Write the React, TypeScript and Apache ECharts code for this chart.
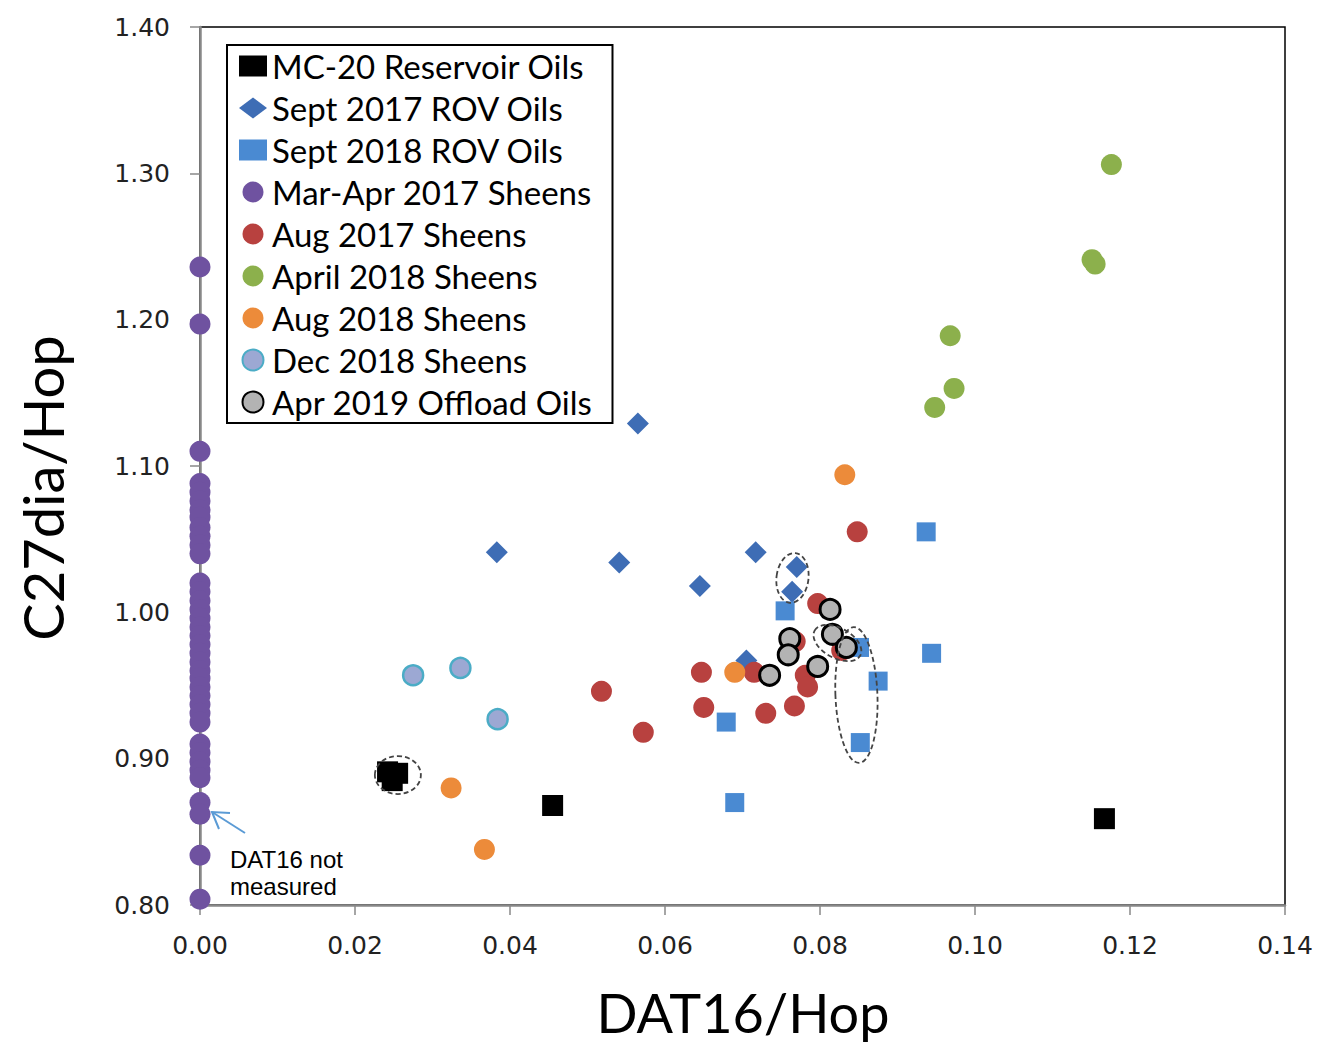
import React, { useEffect, useRef } from 'react';
import * as echarts from 'echarts';

// ---------- data ----------
const seriesNames = [
  'MC-20 Reservoir Oils',
  'Sept 2017 ROV Oils',
  'Sept 2018 ROV Oils',
  'Mar-Apr 2017 Sheens',
  'Aug 2017 Sheens',
  'April 2018 Sheens',
  'Aug 2018 Sheens',
  'Dec 2018 Sheens',
  'Apr 2019 Offload Oils',
];

const mc20Oils: [number, number][] = [
  [0.0242, 0.891], [0.0255, 0.890], [0.0248, 0.885], [0.0455, 0.868], [0.1167, 0.859],
];
const sept2017Rov: [number, number][] = [
  [0.0565, 1.129], [0.0383, 1.041], [0.0541, 1.034], [0.0645, 1.018],
  [0.0717, 1.041], [0.0770, 1.031], [0.0764, 1.014], [0.0705, 0.967],
];
const sept2018Rov: [number, number][] = [
  [0.0755, 1.001], [0.0937, 1.055], [0.0851, 0.976], [0.0944, 0.972],
  [0.0875, 0.953], [0.0679, 0.925], [0.0852, 0.911], [0.0690, 0.870],
];
const marApr2017Y: number[] = [
  1.236, 1.197, 1.110, 1.088, 1.082, 1.076, 1.070, 1.065, 1.058, 1.052, 1.046, 1.040,
  1.020, 1.014, 1.008, 1.002, 0.996, 0.990, 0.984, 0.978, 0.972, 0.966, 0.960, 0.955,
  0.949, 0.943, 0.937, 0.931, 0.925, 0.910, 0.904, 0.898, 0.892, 0.887, 0.870, 0.862,
  0.834, 0.804,
];
const aug2017Sheens: [number, number][] = [
  [0.0518, 0.946], [0.0572, 0.918], [0.0647, 0.959], [0.0650, 0.935], [0.0715, 0.959],
  [0.0730, 0.931], [0.0767, 0.936], [0.0768, 0.980], [0.0781, 0.957], [0.0784, 0.949],
  [0.0797, 1.006], [0.0828, 0.974], [0.0848, 1.055],
];
const april2018Sheens: [number, number][] = [
  [0.1176, 1.306], [0.1151, 1.241], [0.1155, 1.238], [0.0968, 1.189], [0.0973, 1.153], [0.0948, 1.140],
];
const aug2018Sheens: [number, number][] = [
  [0.0832, 1.094], [0.0690, 0.959], [0.0324, 0.880], [0.0367, 0.838],
];
const dec2018Sheens: [number, number][] = [
  [0.0275, 0.957], [0.0336, 0.962], [0.0384, 0.927],
];
const apr2019Offload: [number, number][] = [
  [0.0813, 1.002], [0.0761, 0.982], [0.0759, 0.971], [0.0816, 0.985],
  [0.0834, 0.976], [0.0797, 0.963], [0.0735, 0.957],
];

// annotation ellipses (centers in data units)
const ellipseCenters: [number, number][] = [
  [0.02553, 0.8888], [0.07645, 1.0235], [0.08225, 0.979], [0.0847, 0.9435],
];

export default function App() {
  const ref = useRef<HTMLDivElement>(null);
  useEffect(() => {
    const chart = echarts.init(ref.current!, null, { renderer: 'svg' });
    const mk = (name: string, symbol: string, size: number, data: any[], color: string, borderColor?: string, borderWidth?: number) => ({
      name, type: 'scatter', symbol, symbolSize: size, data,
      itemStyle: { color, borderColor: borderColor || color, borderWidth: borderWidth || 0, opacity: 1 },
      emphasis: { disabled: true },
    });
    const purple = marApr2017Y.map((y) => [0, y]);
    chart.setOption({
      animation: false,
      grid: { left: 200, top: 27, right: 34, bottom: 140, show: true, borderColor: '#000', borderWidth: 1.5, backgroundColor: 'transparent' },
      xAxis: {
        type: 'value', min: 0, max: 0.14, interval: 0.02,
        axisLine: { show: true, lineStyle: { color: '#888', width: 2.5 } },
        axisTick: { show: true, inside: false, length: 10, lineStyle: { color: '#888', width: 1.5 } },
        axisLabel: { margin: 28, fontFamily: 'DejaVu Sans', fontSize: 25, color: '#222', formatter: (v: number) => v.toFixed(2) },
        splitLine: { show: false },
      },
      yAxis: {
        type: 'value', min: 0.8, max: 1.4, interval: 0.1,
        axisLine: { show: true, lineStyle: { color: '#888', width: 2.5 } },
        axisTick: { show: true, inside: false, length: 10, lineStyle: { color: '#888', width: 1.5 } },
        axisLabel: { margin: 30, fontFamily: 'DejaVu Sans', fontSize: 25, color: '#222', formatter: (v: number) => v.toFixed(2) },
        splitLine: { show: false },
      },
      legend: {
        orient: 'vertical', left: 227, top: 45,
        itemWidth: 28, itemHeight: 21, itemGap: 0,
        padding: [0, 20, 0, 12],
        backgroundColor: '#fff', borderColor: '#000', borderWidth: 2,
        textStyle: { fontFamily: 'Lato', fontSize: 33, color: '#000', lineHeight: 42 },
        data: seriesNames,
        selectedMode: false,
      },
      series: [
        mk(seriesNames[0], 'rect', 21, mc20Oils, '#000000'),
        mk(seriesNames[1], 'diamond', 22, sept2017Rov, '#3E6DB5'),
        mk(seriesNames[2], 'rect', 19, sept2018Rov, '#4A8AD2'),
        mk(seriesNames[3], 'circle', 21, purple, '#6F52A0'),
        mk(seriesNames[4], 'circle', 21, aug2017Sheens, '#B8413F'),
        mk(seriesNames[5], 'circle', 21, april2018Sheens, '#8CB04C'),
        mk(seriesNames[6], 'circle', 21, aug2018Sheens, '#EC8B3A'),
        mk(seriesNames[7], 'circle', 20, dec2018Sheens, '#9CA8D3', '#4BACC6', 2.5),
        mk(seriesNames[8], 'circle', 20, apr2019Offload, '#B3B3B3', '#000000', 3),
      ],
    });

    const ellSpec = [
      { rx: 23, ry: 19, rot: 0 },
      { rx: 16, ry: 25, rot: -0.12 },
      { rx: 26, ry: 15, rot: -0.5 },
      { rx: 21, ry: 68, rot: 0.04 },
    ];
    const ells = ellipseCenters.map((c, i) => {
      const p = chart.convertToPixel({ gridIndex: 0 }, c) as number[];
      return {
        type: 'ellipse', x: p[0], y: p[1], rotation: ellSpec[i].rot,
        shape: { cx: 0, cy: 0, rx: ellSpec[i].rx, ry: ellSpec[i].ry },
        style: { fill: 'none', stroke: '#444', lineWidth: 1.8, lineDash: [5, 3] },
        z: 100, silent: true,
      };
    });
    chart.setOption({
      graphic: [
        ...ells,
        {
          type: 'text', x: 42, y: 488, rotation: Math.PI / 2,
          style: { text: 'C27dia/Hop', fontFamily: 'Lato', fontSize: 56, fill: '#000', textAlign: 'center', textVerticalAlign: 'middle' },
        },
        {
          type: 'text', x: 743, y: 1012,
          style: { text: 'DAT16/Hop', fontFamily: 'Lato', fontSize: 54, fill: '#000', textAlign: 'center', textVerticalAlign: 'middle' },
        },
        {
          type: 'text', x: 230, y: 846,
          style: { text: 'DAT16 not\nmeasured', fontFamily: 'Liberation Sans', fontSize: 24, lineHeight: 27, fill: '#000', textAlign: 'left', textVerticalAlign: 'top' },
        },
        { type: 'line', shape: { x1: 212, y1: 812, x2: 245, y2: 833 }, style: { stroke: '#5B9BD5', lineWidth: 2 }, z: 100 },
        { type: 'polyline', shape: { points: [[230, 813], [212, 812], [219, 829]] }, style: { stroke: '#5B9BD5', lineWidth: 2, fill: 'none' }, z: 100 },
      ],
    });
    return () => chart.dispose();
  }, []);
  return <div ref={ref} style={{ position: 'absolute', left: 0, top: 0, width: 1319, height: 1045 }} />;
}
